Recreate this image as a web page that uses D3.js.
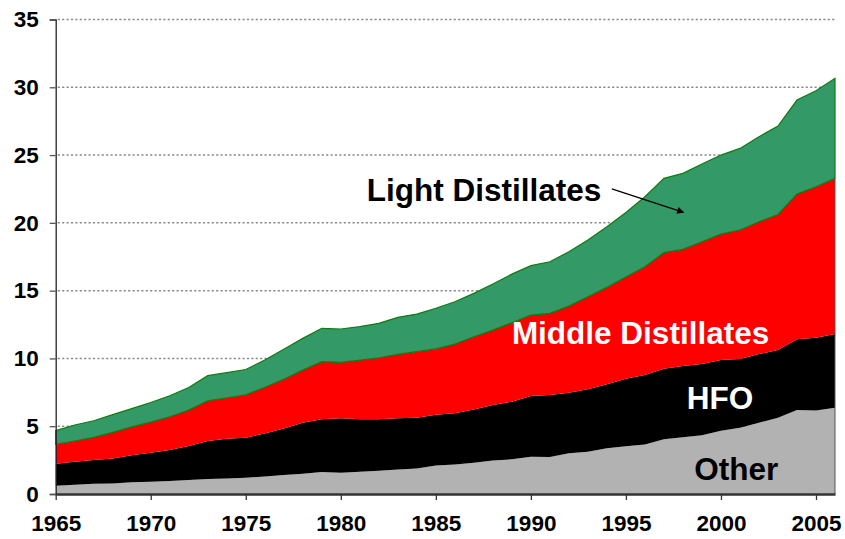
<!DOCTYPE html>
<html>
<head>
<meta charset="utf-8">
<script src="https://cdn.jsdelivr.net/npm/d3@7"></script>
<style>
  body { margin: 0; background: #ffffff; }
  svg text { font-family: Arial, "Liberation Sans", sans-serif; font-weight: bold; }
</style>
</head>
<body>
<div id="chart"></div>
<script>
// data (each layer's own thickness, stacked bottom to top)
var years = [1965, 1966, 1967, 1968, 1969, 1970, 1971, 1972, 1973, 1974,
             1975, 1976, 1977, 1978, 1979, 1980, 1981, 1982, 1983, 1984,
             1985, 1986, 1987, 1988, 1989, 1990, 1991, 1992, 1993, 1994,
             1995, 1996, 1997, 1998, 1999, 2000, 2001, 2002, 2003, 2004,
             2005, 2006];

var other = [0.61, 0.68, 0.75, 0.78, 0.87, 0.91, 0.95, 1.03, 1.10, 1.15,
             1.20, 1.30, 1.40, 1.50, 1.62, 1.57, 1.65, 1.72, 1.80, 1.89,
             2.10, 2.18, 2.31, 2.48, 2.56, 2.75, 2.73, 3.00, 3.12, 3.37,
             3.52, 3.66, 4.03, 4.18, 4.33, 4.67, 4.89, 5.26, 5.63, 6.19,
             6.15, 6.37];

var hfo = [1.63, 1.70, 1.76, 1.84, 1.98, 2.14, 2.30, 2.51, 2.81, 2.93,
           2.95, 3.17, 3.44, 3.76, 3.89, 4.01, 3.86, 3.79, 3.78, 3.74,
           3.75, 3.77, 3.93, 4.08, 4.25, 4.48, 4.57, 4.47, 4.60, 4.72,
           4.98, 5.12, 5.21, 5.26, 5.26, 5.21, 5.07, 5.06, 4.99, 5.22,
           5.38, 5.43];

var middle = [1.42, 1.53, 1.67, 1.93, 2.10, 2.25, 2.45, 2.65, 2.97, 3.02,
              3.17, 3.40, 3.62, 3.88, 4.25, 4.13, 4.37, 4.54, 4.72, 4.87,
              4.85, 5.11, 5.36, 5.53, 5.82, 5.97, 6.02, 6.39, 6.83, 7.15,
              7.50, 7.98, 8.56, 8.60, 9.02, 9.29, 9.51, 9.76, 10.00, 10.71,
              11.13, 11.48];

var light = [1.01, 1.18, 1.22, 1.30, 1.35, 1.45, 1.55, 1.66, 1.85, 1.85,
             1.86, 2.01, 2.21, 2.34, 2.46, 2.46, 2.46, 2.54, 2.73, 2.77,
             3.00, 3.12, 3.20, 3.40, 3.59, 3.64, 3.81, 4.01, 4.18, 4.47,
             4.76, 5.17, 5.48, 5.61, 5.73, 5.83, 6.02, 6.27, 6.52, 6.94,
             7.08, 7.38];

var seriesNames = ["Other", "HFO", "Middle Distillates", "Light Distillates"];
var seriesColors = ["#b2b2b2", "#000000", "#ff0000", "#339966"];

var yTicks = [0, 5, 10, 15, 20, 25, 30, 35];
var xTicks = [1965, 1970, 1975, 1980, 1985, 1990, 1995, 2000, 2005];

// set the dimensions of the graph
var width = 845;
var height = 539;

var svg = d3.select("#chart")
  .append("svg")
    .attr("width", width)
    .attr("height", height);

// build rows for d3.stack
var rows = years.map(function(yr, i) {
  return {
    year: yr,
    "Other": other[i],
    "HFO": hfo[i],
    "Middle Distillates": middle[i],
    "Light Distillates": light[i]
  };
});

var x = d3.scaleLinear()
  .domain([1965, 2006])
  .range([55.7, 835]);

var y = d3.scaleLinear()
  .domain([0, 35])
  .range([494, 19.5]);

var layers = d3.stack().keys(seriesNames)(rows);

// dashed gridlines
svg.append("g")
  .selectAll("line")
  .data(yTicks.filter(function(d) { return d > 0; }))
  .enter()
  .append("line")
    .attr("x1", x(1965) + 2)
    .attr("x2", x(2006))
    .attr("y1", function(d) { return y(d); })
    .attr("y2", function(d) { return y(d); })
    .attr("stroke", "#8c8c8c")
    .attr("stroke-width", 1.5)
    .attr("stroke-dasharray", "2.2,2.2");

// the stacked areas
var area = d3.area()
  .x(function(d) { return x(d.data.year); })
  .y0(function(d) { return y(d[0]); })
  .y1(function(d) { return y(d[1]); });

svg.append("g")
  .selectAll("path")
  .data(layers)
  .enter()
  .append("path")
    .attr("d", area)
    .attr("fill", function(d, i) { return seriesColors[i]; })
    .attr("stroke", function(d, i) { return i === 3 ? "#117a11" : "none"; })
    .attr("stroke-width", 1.2);

// thin edge on the right side of the plot
svg.append("line")
  .attr("x1", x(2006))
  .attr("x2", x(2006))
  .attr("y1", y(0))
  .attr("y2", y(layers[2][layers[2].length - 1][1]))
  .attr("stroke", "#555")
  .attr("stroke-width", 1);

// y axis
var yAxis = svg.append("g")
  .attr("transform", "translate(" + x(1965) + ",0)")
  .call(d3.axisLeft(y).tickValues(yTicks).tickSize(6).tickPadding(11));
yAxis.select(".domain").attr("stroke", "#222").attr("stroke-width", 1.3);
yAxis.selectAll(".tick line").attr("stroke", "#555").attr("stroke-width", 1.3);
yAxis.selectAll("text")
  .attr("fill", "#000")
  .style("font-size", "22.5px")
  .style("font-family", "Arial, 'Liberation Sans', sans-serif")
  .style("font-weight", "bold");

// x axis
var xAxis = svg.append("g")
  .attr("transform", "translate(0," + y(0) + ")")
  .call(d3.axisBottom(x).tickValues(xTicks).tickFormat(d3.format("d")).tickSize(6).tickSizeOuter(0).tickPadding(15));
xAxis.select(".domain").attr("stroke", "#333").attr("stroke-width", 2.5);
xAxis.selectAll(".tick line").attr("stroke", "#333").attr("stroke-width", 1.3);
xAxis.selectAll("text")
  .attr("fill", "#000")
  .style("font-size", "22.5px")
  .style("font-family", "Arial, 'Liberation Sans', sans-serif")
  .style("font-weight", "bold");

// arrow marker
svg.append("defs")
  .append("marker")
    .attr("id", "arrowhead")
    .attr("viewBox", "0 0 10 10")
    .attr("refX", 9)
    .attr("refY", 5)
    .attr("markerWidth", 9)
    .attr("markerHeight", 7)
    .attr("markerUnits", "userSpaceOnUse")
    .attr("orient", "auto")
  .append("path")
    .attr("d", "M0,0 L10,5 L0,10 z")
    .attr("fill", "#000");

svg.append("line")
  .attr("x1", x(1994.26))
  .attr("y1", y(22.5))
  .attr("x2", x(1998.03))
  .attr("y2", y(20.78))
  .attr("stroke", "#000")
  .attr("stroke-width", 1.3)
  .attr("marker-end", "url(#arrowhead)");

// series labels inside / beside the areas
var labels = [
  { text: "Light Distillates", year: 1981.37, value: 21.63, color: "#000" },
  { text: "Middle Distillates", year: 1989.0, value: 11.04, color: "#fff" },
  { text: "HFO", year: 1998.2, value: 6.27, color: "#fff" },
  { text: "Other", year: 1998.6, value: 1.03, color: "#000" }
];

svg.append("g")
  .selectAll("text")
  .data(labels)
  .enter()
  .append("text")
    .attr("x", function(d) { return x(d.year); })
    .attr("y", function(d) { return y(d.value); })
    .attr("fill", function(d) { return d.color; })
    .style("font-size", "31.5px")
    .text(function(d) { return d.text; });
</script>
</body>
</html>
